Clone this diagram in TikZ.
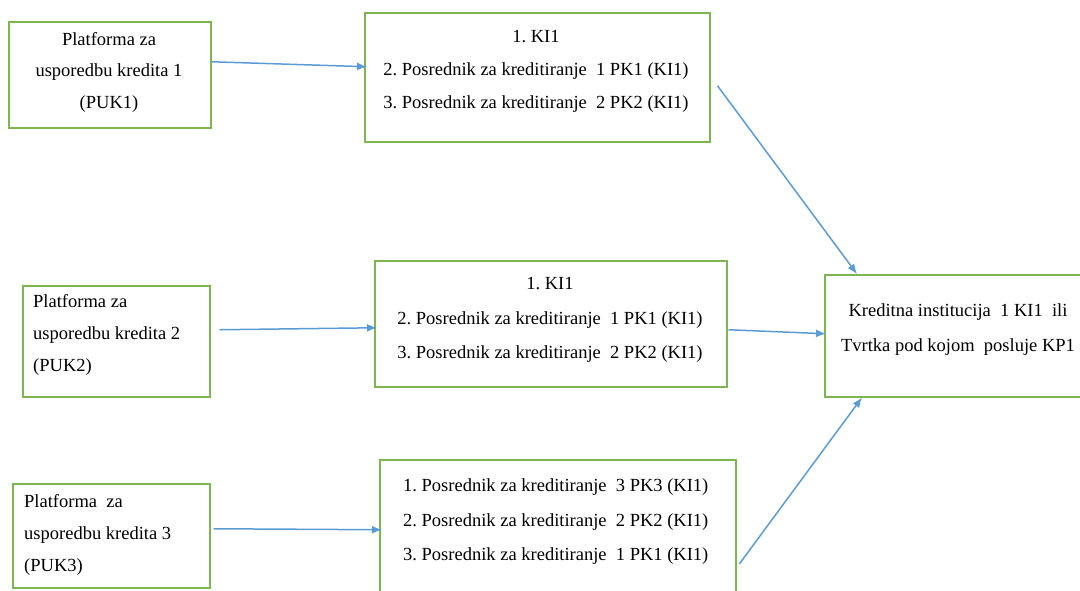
\documentclass[tikz,border=0pt]{standalone}
\usepackage{fontspec}
\setmainfont{Liberation Serif}
\usetikzlibrary{arrows.meta,calc}
\definecolor{boxgreen}{RGB}{125,182,80}
\definecolor{arrowblue}{RGB}{91,155,213}
\frenchspacing
\begin{document}
\frenchspacing
\begin{tikzpicture}[x=1pt,y=-1pt,
  box/.style={draw=boxgreen,line width=1.5pt,rectangle,inner sep=0pt,anchor=north west},
  txt/.style={inner sep=0pt,text=black},
  conn/.style={draw=arrowblue,line width=1.5pt,-{Latex[length=10pt,width=8pt]}}]
\useasboundingbox (0,0) rectangle (1080,590);
% boxes
\node[box,minimum width=202pt,minimum height=106pt] (p1) at (8,21) {};
\node[box,minimum width=345pt,minimum height=129pt] (a) at (364,12) {};
\node[box,minimum width=187pt,minimum height=111pt] (p2) at (22,285) {};
\node[box,minimum width=352pt,minimum height=126pt] (b) at (374,260) {};
\node[box,minimum width=197pt,minimum height=104pt] (p3) at (12,483) {};
\node[box,minimum width=356pt,minimum height=150pt] (c) at (379,459) {};
\node[box,minimum width=270pt,minimum height=122pt] (k) at (824,274) {};
% texts
\node[txt,align=center,font=\fontsize{18.5pt}{31.5pt}\selectfont] (p1t) at (109,72)
  {Platforma za\\usporedbu kredita 1\\(PUK1)};
\node[txt,align=center,font=\fontsize{18.5pt}{33pt}\selectfont] (at) at (536,71)
  {1. KI1\\2. Posrednik za kreditiranje~ 1 PK1 (KI1)\\3. Posrednik za kreditiranje~ 2 PK2 (KI1)};
\node[txt,align=left,anchor=west,font=\fontsize{18.5pt}{32pt}\selectfont] (p2t) at (33,335)
  {Platforma za\\usporedbu kredita 2\\(PUK2)};
\node[txt,align=center,font=\fontsize{18.5pt}{34.5pt}\selectfont] (bt) at (550,320)
  {1. KI1\\2. Posrednik za kreditiranje~ 1 PK1 (KI1)\\3. Posrednik za kreditiranje~ 2 PK2 (KI1)};
\node[txt,align=left,anchor=west,font=\fontsize{18.5pt}{32pt}\selectfont] (p3t) at (24,535)
  {Platforma~ za\\usporedbu kredita 3\\(PUK3)};
\node[txt,align=left,anchor=west,font=\fontsize{18.5pt}{34.5pt}\selectfont] (ct) at (403,522)
  {1. Posrednik za kreditiranje~ 3 PK3 (KI1)\\2. Posrednik za kreditiranje~ 2 PK2 (KI1)\\3. Posrednik za kreditiranje~ 1 PK1 (KI1)};
\node[txt,align=center,font=\fontsize{18.5pt}{35pt}\selectfont] (kt) at (958,330)
  {Kreditna institucija~ 1 KI1~ ili\\Tvrtka pod kojom~ posluje KP1};
% connectors
\draw[conn] ([yshift=13pt]p1.east) -- ([xshift=3pt,yshift=10.5pt]a.west);
\draw[conn] ([xshift=9pt,yshift=11.5pt]p2.east) -- ([xshift=3pt,yshift=-4pt]b.west);
\draw[conn] ([xshift=3pt,yshift=7pt]p3.east) -- ([xshift=3pt,yshift=5pt]c.west);
\draw[conn] ([xshift=7pt,yshift=-8.5pt]a.east) -- ([xshift=33pt]k.north west);
\draw[conn] ([xshift=1pt,yshift=-6pt]b.east) -- ([xshift=2pt,yshift=2pt]k.west);
\draw[conn] ([xshift=3pt,yshift=-29pt]c.east) -- ([xshift=38pt]k.south west);
\end{tikzpicture}
\end{document}
